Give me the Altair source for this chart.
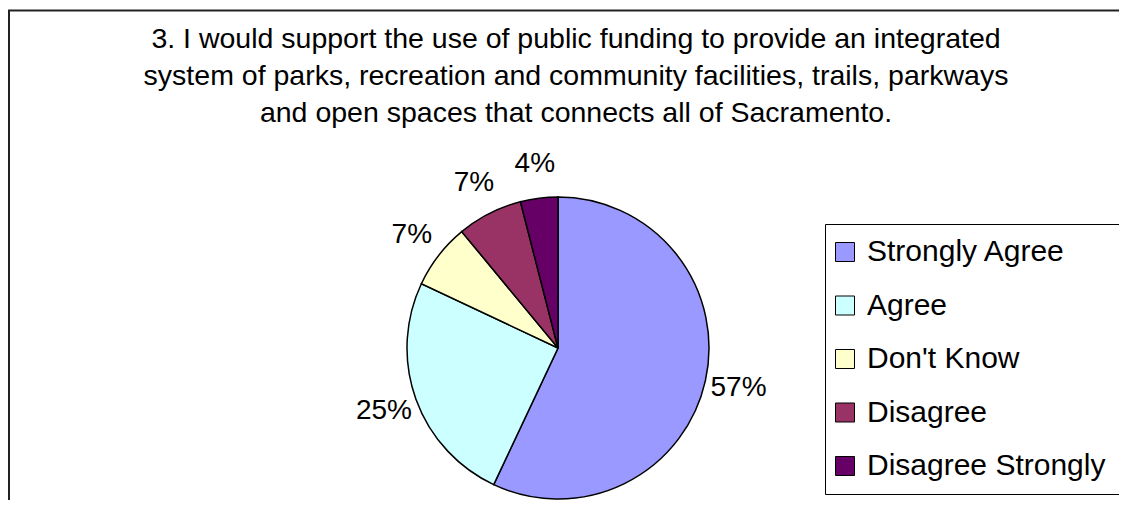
import altair as alt
import pandas as pd

CATEGORIES = ["Strongly Agree", "Agree", "Don't Know", "Disagree", "Disagree Strongly"]
PERCENTS = [57, 25, 7, 7, 4]
COLORS = ["#9999FF", "#CCFFFF", "#FFFFCC", "#993366", "#660066"]
TITLE_LINES = [
    "3. I would support the use of public funding to provide an integrated",
    "system of parks, recreation  and community facilities, trails, parkways",
    "and open spaces that connects all of Sacramento.",
]

W, H = 1111, 492
CX, CY = 550, 340
R = 151
FONT = "Liberation Sans"

df = pd.DataFrame({
    "category": CATEGORIES,
    "percent": PERCENTS,
    "order": list(range(len(CATEGORIES))),
    "label": [f"{p}%" for p in PERCENTS],
})
one = pd.DataFrame({"k": [0]})

frame_top = alt.Chart(one).mark_rule(color="#222222", strokeWidth=2).encode(
    x=alt.value(0), x2=alt.value(W), y=alt.value(2.5)
)
frame_left = alt.Chart(one).mark_rule(color="#222222", strokeWidth=2).encode(
    x=alt.value(1), y=alt.value(2), y2=alt.value(H)
)

title = alt.Chart(one).mark_text(
    font=FONT, fontSize=28.5, color="black", align="center",
    baseline="alphabetic", lineHeight=37
).encode(x=alt.value(568), y=alt.value(40), text=alt.value(TITLE_LINES))

base = alt.Chart(df).encode(
    theta=alt.Theta("percent:Q", stack=True),
    order=alt.Order("order:Q"),
    x=alt.value(CX),
    y=alt.value(CY),
)

arcs = base.mark_arc(outerRadius=R, stroke="black", strokeWidth=1.5).encode(
    color=alt.Color(
        "category:N",
        sort=CATEGORIES,
        scale=alt.Scale(domain=CATEGORIES, range=COLORS),
        legend=alt.Legend(
            title=None, orient="none", legendX=817, legendY=216,
            padding=13, strokeColor="black",
            symbolType="square", symbolSize=361, symbolStrokeColor="black",
            symbolStrokeWidth=1, symbolOpacity=1, symbolOffset=-8,
            labelFont=FONT, labelFontSize=30, labelColor="black",
            labelLimit=400, labelOffset=7, rowPadding=23.5,
        ),
    )
)

labels = base.mark_text(radius=185, font=FONT, fontSize=28, color="black").encode(
    text="label:N"
)

chart = alt.layer(frame_top, frame_left, title, arcs, labels).properties(
    width=W, height=H, autosize=alt.AutoSizeParams(type="none"), padding=0
).configure_view(stroke=None)

chart.save("out.html", embed_options={"renderer": "svg", "actions": False})
